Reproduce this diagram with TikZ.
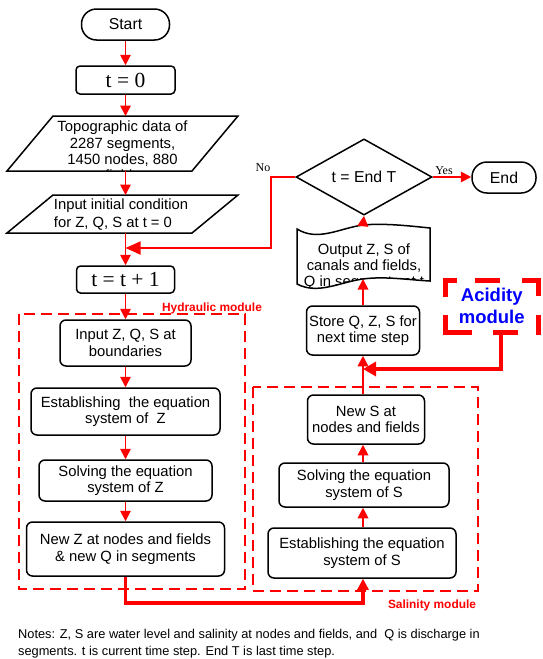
\documentclass[tikz,border=0pt]{standalone}
\usepackage{fontspec}
\setmainfont{Liberation Sans}
\newfontfamily\serifm{Liberation Serif}
\usetikzlibrary{arrows.meta,shapes.geometric,calc}
\begin{document}
\begin{tikzpicture}[x=1pt,y=-1pt,
  box/.style={draw,line width=1.5pt,rounded corners=6pt,align=center,inner sep=0pt,font=\fontsize{14.8}{16.5}\selectfont},
  term/.style={draw,line width=1.5pt,rounded corners=15pt,inner sep=0pt,font=\fontsize{15.8}{18}\selectfont},
  tbox/.style={draw,line width=1.5pt,rounded corners=4pt,inner sep=0pt,font=\serifm\fontsize{21.5}{24}\selectfont},
  shapeline/.style={draw,line width=1.5pt},
  arr/.style={draw=red,line width=1.8pt,-{Triangle[length=10.5pt,width=10.5pt]}},
  looparr/.style={draw=red,line width=1.8pt,-{Triangle[length=15pt,width=13pt]}},
  thickarr/.style={draw=red,line width=3.5pt,-{Triangle[length=11pt,width=11pt]}},
  acidarr/.style={draw=red,line width=4pt,-{Triangle[length=13pt,width=14pt]}},
  modbox/.style={draw=red,line width=1.6pt,dash pattern=on 11pt off 6pt},
  modlabel/.style={text=red,font=\bfseries\fontsize{11.9}{13}\selectfont,inner sep=0pt},
  acidframe/.style={draw=red,line width=5pt,line cap=butt,miter limit=10},
  yn/.style={font=\serifm\fontsize{12}{14}\selectfont,inner sep=0pt}
]
\useasboundingbox (0,0) rectangle (542,659);

% module frames
\draw[modbox] (19,314) rectangle (245,589);
\draw[modbox] (253,387) rectangle (478,591);
\node[modlabel] (hlab) at (212,308) {Hydraulic module};
\node[modlabel] (slab) at (432,605) {Salinity module};

% left column
\node[term,minimum width=88pt,minimum height=31pt] (start) at (125.5,24.5) {Start};
\node[tbox,minimum width=99pt,minimum height=28pt] (t0) at (125.5,80) {t = 0};

% topographic parallelogram
\draw[shapeline] (53,116) -- (238,116) -- (192,171) -- (7,171) -- cycle;
\begin{scope}
  \clip (53,117) -- (238,117) -- (192,170) -- (7,170) -- cycle;
  \node[align=center,inner sep=0pt,font=\fontsize{14.8}{16.3}\selectfont] (topo) at (122.5,151)
    {Topographic data of\\2287 segments,\\1450 nodes, 880\\fields};
\end{scope}
\coordinate (topoN) at (125.5,116);
\coordinate (topoS) at (125.5,171);

% input initial condition parallelogram
\draw[shapeline] (53,195) -- (238,195) -- (192,233) -- (7,233) -- cycle;
\node[align=left,inner sep=0pt,font=\fontsize{14.8}{17.5}\selectfont] (init) at (121,214.5)
  {Input initial condition\\for Z, Q, S at t = 0};
\coordinate (initN) at (125.5,195);
\coordinate (initS) at (125.5,233);

\node[tbox,minimum width=98pt,minimum height=27pt] (tt) at (125.5,279.5) {t = t + 1};

% hydraulic module
\node[box,minimum width=131pt,minimum height=46pt] (inz) at (125.5,343) {Input Z, Q, S at\\boundaries};
\node[box,minimum width=189pt,minimum height=47pt] (estz) at (125.5,411.5) {Establishing\ \ the equation\\system of\ \ Z};
\node[box,minimum width=173pt,minimum height=41pt] (solz) at (125.5,480.5) {Solving the equation\\system of Z};
\node[box,minimum width=198pt,minimum height=54pt] (newz) at (125.5,549) {New Z at nodes and fields\\\& new Q in segments};

% salinity module
\node[box,minimum width=188pt,minimum height=50pt] (ests) at (362,553) {Establishing the equation\\system of S};
\node[box,minimum width=170pt,minimum height=44pt] (sols) at (364,485) {Solving the equation\\system of S};
\node[box,minimum width=117pt,minimum height=49pt] (news) at (366,419.5) {New S at\\nodes and fields};

% store
\node[box,minimum width=113pt,minimum height=49pt] (store) at (363,330.5) {Store Q, Z, S for\\next time step};

% output tape
\draw[shapeline] (297,229) .. controls (318,242) and (340,228) .. (363,225)
  .. controls (385,223) and (410,226) .. (430,228) -- (430,281)
  .. controls (410,280) and (385,276) .. (363,279)
  .. controls (340,282) and (318,295) .. (297,284) -- cycle;
\begin{scope}
  \clip (298,230) .. controls (318,243) and (340,229) .. (363,226)
  .. controls (385,224) and (410,227) .. (429,229) -- (429,280)
  .. controls (410,279) and (385,275) .. (363,278)
  .. controls (340,281) and (318,294) .. (298,283) -- cycle;
  \node[align=center,inner sep=0pt,font=\fontsize{14.8}{16}\selectfont] (out) at (364,266.5)
    {Output Z, S of\\canals and fields,\\Q in segments at t};
\end{scope}
\coordinate (outT) at (363,225);
\coordinate (outB) at (363,279);

% decision and end
\node[diamond,draw,line width=1.5pt,minimum width=136pt,minimum height=61pt,inner sep=0pt,
  font=\fontsize{15.8}{18}\selectfont] (dia) at (364,177) {t = End T};
\node[term,minimum width=64pt,minimum height=31pt] (end) at (504,177.5) {End};
\node[yn] (no) at (263,168) {No};
\node[yn] (yes) at (444,171) {Yes};

% acidity module
\node[inner sep=0pt,minimum width=92.5pt,minimum height=52.5pt,align=center,text=blue,
  font=\bfseries\fontsize{18.5}{22}\selectfont] (acid) at (491.75,306.25) {Acidity\\module};
\draw[acidframe] (445.5,297) -- (445.5,280) -- (457,280);
\draw[acidframe] (475,280) -- (500,280);
\draw[acidframe] (522,280) -- (538,280) -- (538,296);
\draw[acidframe] (445.5,315) -- (445.5,332.5) -- (472,332.5);
\draw[acidframe] (493,332.5) -- (518,332.5);
\draw[acidframe] (538,315) -- (538,335);

% connectors
\coordinate (loopin) at (125.5,248);
\coordinate (jn) at (363,369);
\coordinate (lowbend) at (125.5,603);
\draw[arr] (start) -- (t0);
\draw[arr] (t0) -- (topoN);
\draw[arr] (topoS) -- (initN);
\draw[arr] (initS) -- (tt);
\draw[arr] (tt) -- (inz);
\draw[arr] (inz) -- (estz);
\draw[arr] (estz) -- (solz);
\draw[arr] (solz) -- (newz);
\draw[thickarr] (newz.south) -- (lowbend) -| (ests.south -| jn);
\draw[arr] (ests.north -| jn) -- (sols.south -| jn);
\draw[arr] (sols.north -| jn) -- (news.south -| jn);
\draw[arr] (news.north -| jn) -- (store.south -| jn);
\draw[acidarr] ([xshift=9.25pt]acid.south) |- (jn);
\draw[arr] (store.north -| jn) -- (outB);
\draw[arr] (outT) -- (dia.south);
\draw[arr] (dia.east) -- (dia.east -| end.west);
\draw[looparr] (dia.west) -- (271,177) -- (271,248) -- (loopin);

% notes
\node[anchor=west,align=left,inner sep=0pt,font=\fontsize{12.8}{17}\selectfont] (notes) at (18,643.5)
  {Notes: Z, S are water level and salinity at nodes and fields, and\ \ Q is discharge in\\segments. t is current time step. End T is last time step.};
\end{tikzpicture}
\end{document}
